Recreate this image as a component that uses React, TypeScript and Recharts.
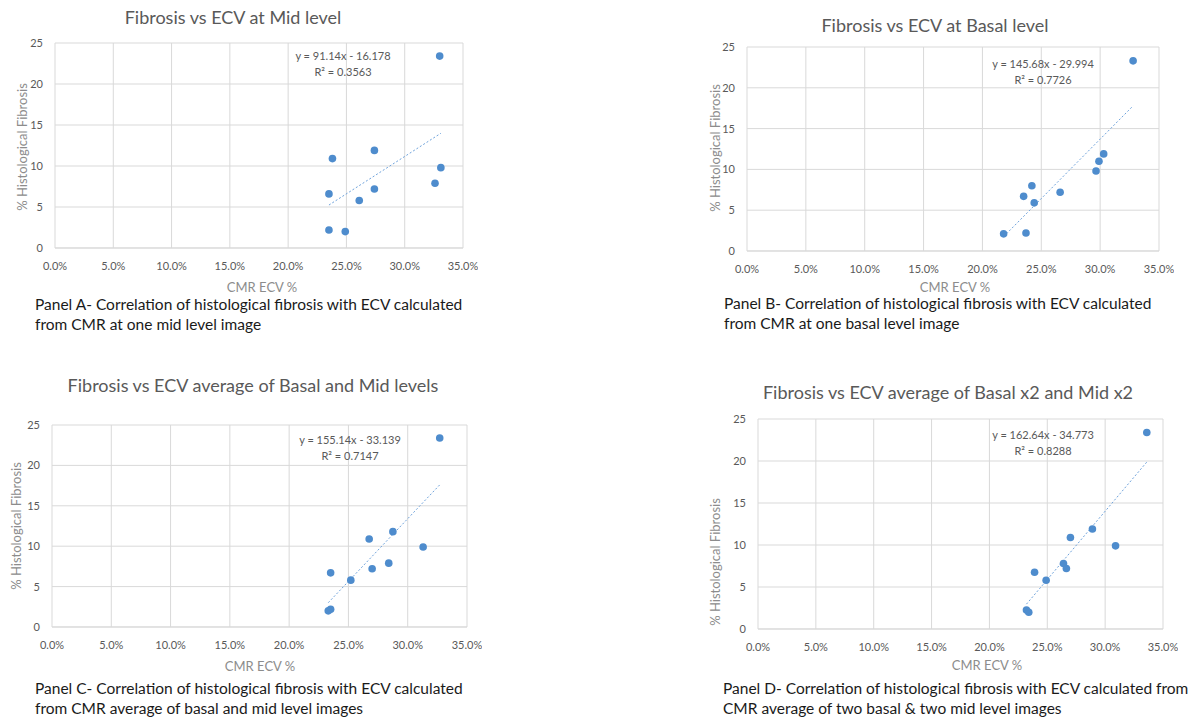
import React from 'react';
import { ScatterChart, Scatter, XAxis, YAxis, CartesianGrid } from 'recharts';

// Panel A - mid level
const midEcv = [0.330, 0.238, 0.274, 0.235, 0.274, 0.261, 0.326, 0.331, 0.235, 0.249];
const midFib = [23.4, 10.9, 11.9, 6.6, 7.2, 5.8, 7.9, 9.8, 2.2, 2.0];
// Panel B - basal level
const basalEcv = [0.328, 0.303, 0.299, 0.2965, 0.242, 0.235, 0.244, 0.266, 0.218, 0.237];
const basalFib = [23.3, 11.9, 11.0, 9.8, 8.0, 6.7, 5.9, 7.2, 2.1, 2.2];
// Panel C - average of basal and mid
const avgEcv = [0.327, 0.2875, 0.2675, 0.313, 0.284, 0.270, 0.235, 0.252, 0.235, 0.233];
const avgFib = [23.4, 11.8, 10.9, 9.9, 7.9, 7.2, 6.7, 5.8, 2.2, 2.0];
// Panel D - average of basal x2 and mid x2
const avg4Ecv = [0.336, 0.289, 0.270, 0.309, 0.264, 0.2665, 0.239, 0.249, 0.232, 0.234];
const avg4Fib = [23.4, 11.9, 10.9, 9.9, 7.8, 7.2, 6.75, 5.8, 2.25, 2.0];

// trendline coefficients as printed on the chart
const midFit = { slope: 91.14, intercept: -16.178, eq: 'y = 91.14x - 16.178', r2: 'R² = 0.3563' };
const basalFit = { slope: 145.68, intercept: -29.994, eq: 'y = 145.68x - 29.994', r2: 'R² = 0.7726' };
const avgFit = { slope: 155.14, intercept: -33.139, eq: 'y = 155.14x - 33.139', r2: 'R² = 0.7147' };
const avg4Fit = { slope: 162.64, intercept: -34.773, eq: 'y = 162.64x - 34.773', r2: 'R² = 0.8288' };

const xTicks = [0, 0.05, 0.1, 0.15, 0.2, 0.25, 0.3, 0.35];
const yTicks = [0, 5, 10, 15, 20, 25];

const FONT = 'Lato, "Open Sans", sans-serif';
const GRAY = '#595959';
const BLUE = '#4e8ccd';

type Fit = typeof midFit;

interface PanelProps {
  ecv: number[];
  fib: number[];
  fit: Fit;
  plot: { l: number; t: number; r: number; b: number };
  title: string;
  titlePos: [number, number];
  yLabelPos: [number, number];
  xLabelPos: [number, number];
  eqPos: [number, number];
  caption: string[];
  captionPos: [number, number];
}

const Txt = ({ x, y, children, style }: { x: number; y: number; children: React.ReactNode; style?: React.CSSProperties }) => (
  <div style={{
    position: 'absolute', left: x, top: y, transform: 'translate(-50%, -50%)',
    whiteSpace: 'nowrap', lineHeight: 1, fontFamily: FONT, ...style,
  }}>{children}</div>
);

function Panel(p: PanelProps) {
  const pts = p.ecv.map((x, i) => ({ x, y: p.fib[i] }));
  const lo = Math.min(...p.ecv);
  const hi = Math.max(...p.ecv);
  const trend = [lo, hi].map((x) => ({ x, y: p.fit.slope * x + p.fit.intercept }));
  const { l, t, r, b } = p.plot;
  const width = r - l + 45 + 15;
  const height = b - t + 10 + 35;

  return (
    <>
      <Txt x={p.titlePos[0]} y={p.titlePos[1]} style={{ fontSize: 18, color: GRAY }}>{p.title}</Txt>
      <div style={{ position: 'absolute', left: l - 45, top: t - 10 }}>
        <ScatterChart width={width} height={height} margin={{ top: 10, right: 15, bottom: 0, left: 15 }}>
          <CartesianGrid stroke="#d9d9d9" />
          <XAxis
            type="number" dataKey="x" domain={[0, 0.35]} ticks={xTicks} height={35}
            tickFormatter={(v: number) => `${(v * 100).toFixed(1)}%`}
            tick={{ fontSize: 11, fill: GRAY, fontFamily: FONT }}
            tickLine={false} stroke="#d9d9d9" tickMargin={8} interval={0}
          />
          <YAxis
            type="number" dataKey="y" domain={[0, 25]} ticks={yTicks} width={30}
            tick={{ fontSize: 11, fill: GRAY, fontFamily: FONT }}
            tickLine={false} axisLine={false} tickMargin={6}
          />
          <Scatter
            data={trend} isAnimationActive={false}
            line={{ stroke: '#6fa3dc', strokeWidth: 1, strokeDasharray: '2 2' }}
            shape={() => <g />}
          />
          <Scatter
            data={pts} isAnimationActive={false}
            shape={(s: any) => <circle cx={s.cx} cy={s.cy} r={3.8} fill={BLUE} />}
          />
        </ScatterChart>
      </div>
      <Txt x={p.eqPos[0]} y={p.eqPos[1]} style={{ fontSize: 11, color: GRAY }}>{p.fit.eq}</Txt>
      <Txt x={p.eqPos[0]} y={p.eqPos[1] + 16} style={{ fontSize: 11, color: GRAY }}>{p.fit.r2}</Txt>
      <Txt x={p.yLabelPos[0]} y={p.yLabelPos[1]} style={{ fontSize: 13, color: '#8c8c8c', transform: 'translate(-50%, -50%) rotate(-90deg)' }}>
        % Histological Fibrosis
      </Txt>
      <Txt x={p.xLabelPos[0]} y={p.xLabelPos[1]} style={{ fontSize: 13, color: '#8c8c8c' }}>CMR ECV %</Txt>
      <div style={{
        position: 'absolute', left: p.captionPos[0], top: p.captionPos[1] - 10,
        fontFamily: FONT, fontSize: 15.5, color: '#1a1a1a', lineHeight: '20px', whiteSpace: 'nowrap',
      }}>
        {p.caption.map((c) => <div key={c}>{c}</div>)}
      </div>
    </>
  );
}

export default function App() {
  return (
    <div style={{ position: 'absolute', left: 0, top: 0, width: 1200, height: 727, background: '#fff', overflow: 'hidden' }}>
      <Panel
        ecv={midEcv} fib={midFib} fit={midFit}
        plot={{ l: 55, t: 43, r: 463, b: 248 }}
        title="Fibrosis vs ECV at Mid level" titlePos={[233, 17]}
        yLabelPos={[22, 147]} xLabelPos={[262, 287]} eqPos={[343, 55]}
        caption={['Panel A- Correlation of histological fibrosis with ECV calculated', 'from CMR at one mid level image']}
        captionPos={[35, 304]}
      />
      <Panel
        ecv={basalEcv} fib={basalFib} fit={basalFit}
        plot={{ l: 747, t: 47, r: 1159, b: 251 }}
        title="Fibrosis vs ECV at Basal  level" titlePos={[935, 25]}
        yLabelPos={[715, 148]} xLabelPos={[955, 287]} eqPos={[1043, 63]}
        caption={['Panel B- Correlation of histological fibrosis with ECV calculated', 'from CMR at one basal level image']}
        captionPos={[724, 303]}
      />
      <Panel
        ecv={avgEcv} fib={avgFib} fit={avgFit}
        plot={{ l: 52, t: 425, r: 467, b: 627 }}
        title="Fibrosis vs ECV average of Basal and Mid levels" titlePos={[253, 385]}
        yLabelPos={[16, 526]} xLabelPos={[260, 666]} eqPos={[350, 439]}
        caption={['Panel C- Correlation of histological fibrosis with ECV calculated', 'from  CMR average of basal and mid  level images']}
        captionPos={[35, 688]}
      />
      <Panel
        ecv={avg4Ecv} fib={avg4Fib} fit={avg4Fit}
        plot={{ l: 758, t: 419, r: 1163, b: 629 }}
        title="Fibrosis vs ECV average of Basal x2 and Mid x2" titlePos={[948, 392]}
        yLabelPos={[715, 562]} xLabelPos={[987, 665]} eqPos={[1043, 434]}
        caption={['Panel D- Correlation of histological fibrosis with ECV calculated from', 'CMR average of two  basal & two mid  level images']}
        captionPos={[723, 688]}
      />
    </div>
  );
}
